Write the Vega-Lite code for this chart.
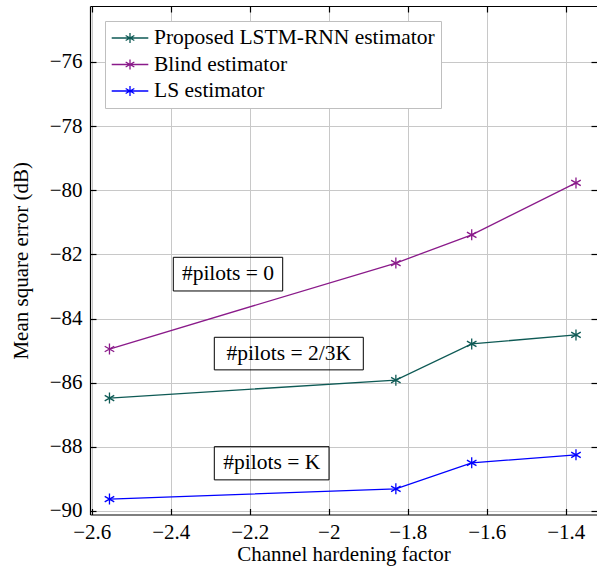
{
  "$schema": "https://vega.github.io/schema/vega-lite/v6.json",
  "width": 507,
  "height": 508.5,
  "autosize": {"type": "none"},
  "padding": {"left": 90, "top": 6, "right": 0, "bottom": 58.5},
  "background": "white",
  "config": {
    "font": "Liberation Serif",
    "view": {"stroke": null},
    "text": {"font": "Liberation Serif"},
    "legend": {"labelFont": "Liberation Serif"},
    "axis": {
      "labelFont": "Liberation Serif",
      "titleFont": "Liberation Serif",
      "domainColor": "black",
      "domainWidth": 1.2,
      "tickColor": "black",
      "tickWidth": 1.2,
      "labelColor": "black",
      "titleColor": "black",
      "labelFontSize": 21,
      "titleFontSize": 21,
      "titleFontWeight": "normal",
      "gridColor": "#c8c8c8",
      "gridWidth": 1
    }
  },
  "datasets": {
    "mse": [
      {"factor": -2.555, "mse": -86.48, "estimator": "Proposed LSTM-RNN estimator"},
      {"factor": -1.83, "mse": -85.92, "estimator": "Proposed LSTM-RNN estimator"},
      {"factor": -1.638, "mse": -84.79, "estimator": "Proposed LSTM-RNN estimator"},
      {"factor": -1.374, "mse": -84.51, "estimator": "Proposed LSTM-RNN estimator"},
      {"factor": -2.555, "mse": -84.95, "estimator": "Blind estimator"},
      {"factor": -1.83, "mse": -82.27, "estimator": "Blind estimator"},
      {"factor": -1.638, "mse": -81.39, "estimator": "Blind estimator"},
      {"factor": -1.374, "mse": -79.77, "estimator": "Blind estimator"},
      {"factor": -2.555, "mse": -89.63, "estimator": "LS estimator"},
      {"factor": -1.83, "mse": -89.31, "estimator": "LS estimator"},
      {"factor": -1.638, "mse": -88.5, "estimator": "LS estimator"},
      {"factor": -1.374, "mse": -88.25, "estimator": "LS estimator"}
    ],
    "notes": [
      {"label": "#pilots = 0", "x1": -2.3934, "x2": -2.1165, "y1": -82.09, "y2": -83.14, "xc": -2.255, "yc": -82.615},
      {"label": "#pilots = 2/3K", "x1": -2.2896, "x2": -1.9124, "y1": -84.584, "y2": -85.6, "xc": -2.101, "yc": -85.092},
      {"label": "#pilots = K", "x1": -2.2896, "x2": -1.9992, "y1": -87.995, "y2": -89.03, "xc": -2.144, "yc": -88.512}
    ]
  },
  "resolve": {"axis": {"x": "independent", "y": "independent"}},
  "layer": [
    {
      "data": {"name": "mse"},
      "mark": {"type": "line", "strokeWidth": 1.3},
      "encoding": {
        "x": {
          "field": "factor", "type": "quantitative",
          "scale": {"domain": [-2.6043, -1.3208], "nice": false, "zero": false},
          "axis": {
            "values": [-2.6, -2.4, -2.2, -2, -1.8, -1.6, -1.4],
            "format": "~g", "grid": true, "tickSize": -6, "labelPadding": 13,
            "labelFont": "Liberation Serif",
            "encode": {"labels": {"update": {"font": {"value": "Liberation Serif"}}}},
            "title": "Channel hardening factor", "titlePadding": 1
          }
        },
        "y": {
          "field": "mse", "type": "quantitative",
          "scale": {"domain": [-90.11, -74.254], "nice": false, "zero": false},
          "axis": {
            "values": [-76, -78, -80, -82, -84, -86, -88, -90],
            "format": "d", "grid": true, "tickSize": -6, "labelPadding": 14,
            "labelFont": "Liberation Serif",
            "encode": {"labels": {"update": {"font": {"value": "Liberation Serif"}}}},
            "title": "Mean square error (dB)", "titlePadding": 18
          }
        },
        "color": {
          "field": "estimator", "type": "nominal",
          "scale": {
            "domain": ["Proposed LSTM-RNN estimator", "Blind estimator", "LS estimator"],
            "range": ["#0e5a55", "#8a1a8a", "#0000ff"]
          },
          "legend": {
            "title": null, "orient": "none", "legendX": 15, "legendY": 15,
            "symbolType": "M-1.83,0L1.83,0M0,-0.5L0,0.5M-0.433,-0.25L0.433,0.25M-0.433,0.25L0.433,-0.25",
            "symbolSize": 400, "symbolStrokeWidth": 1.3, "symbolFillColor": "transparent",
            "symbolOffset": 8,
            "labelFontSize": 21.5, "labelColor": "black", "labelOffset": 13, "rowPadding": 4.5,
            "padding": 6, "strokeColor": "#bfbfbf", "fillColor": "white", "labelLimit": 400
          }
        }
      }
    },
    {
      "data": {"name": "mse"},
      "mark": {
        "type": "point", "filled": false, "strokeWidth": 1.3, "size": 121, "opacity": 1,
        "shape": "M0,-1L0,1M-0.866,-0.5L0.866,0.5M-0.866,0.5L0.866,-0.5"
      },
      "encoding": {
        "x": {
          "field": "factor", "type": "quantitative",
          "axis": {
            "orient": "top", "values": [-2.6, -2.4, -2.2, -2, -1.8, -1.6, -1.4],
            "labels": false, "grid": false, "tickSize": -6, "title": null
          }
        },
        "y": {
          "field": "mse", "type": "quantitative",
          "axis": {
            "orient": "right", "values": [-76, -78, -80, -82, -84, -86, -88, -90],
            "labels": false, "grid": false, "tickSize": -6, "domain": false, "title": null
          }
        },
        "color": {
          "field": "estimator", "type": "nominal",
          "legend": {
            "title": null, "orient": "none", "legendX": 15, "legendY": 15,
            "symbolType": "M-1.83,0L1.83,0M0,-0.5L0,0.5M-0.433,-0.25L0.433,0.25M-0.433,0.25L0.433,-0.25",
            "symbolSize": 400, "symbolStrokeWidth": 1.3, "symbolFillColor": "transparent",
            "symbolOffset": 8,
            "labelFontSize": 21.5, "labelColor": "black", "labelOffset": 13, "rowPadding": 4.5,
            "padding": 6, "strokeColor": "#bfbfbf", "fillColor": "white", "labelLimit": 400
          }
        }
      }
    },
    {
      "data": {"name": "notes"},
      "mark": {"type": "rect", "fill": null, "fillOpacity": 0, "stroke": "black", "strokeWidth": 1},
      "encoding": {
        "x": {"field": "x1", "type": "quantitative", "axis": null},
        "x2": {"field": "x2"},
        "y": {"field": "y1", "type": "quantitative", "axis": null},
        "y2": {"field": "y2"}
      }
    },
    {
      "data": {"name": "notes"},
      "mark": {"type": "text", "font": "Liberation Serif", "fontSize": 21.5, "align": "center", "baseline": "middle", "color": "black"},
      "encoding": {
        "x": {"field": "xc", "type": "quantitative", "axis": null},
        "y": {"field": "yc", "type": "quantitative", "axis": null},
        "text": {"field": "label"}
      }
    }
  ]
}
